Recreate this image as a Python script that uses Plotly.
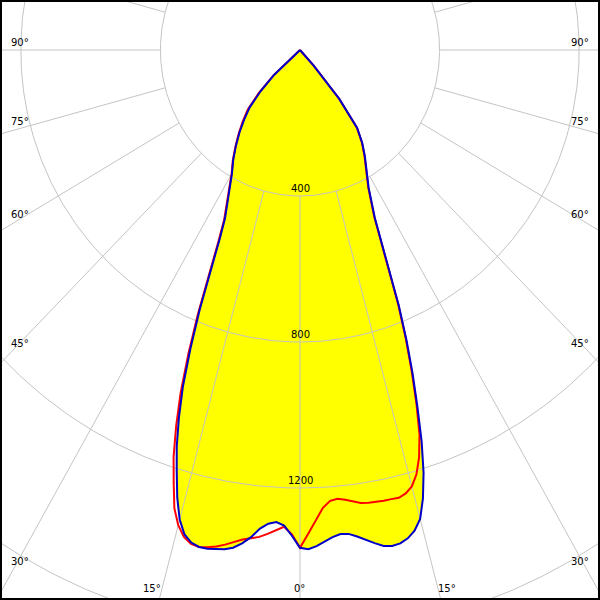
import numpy as np
import plotly.graph_objects as go

# ---------------- data ----------------
gamma = [0, 1, 2, 3, 4, 5, 6, 7, 8, 9, 10, 11, 12, 13, 14, 15, 16, 17, 18, 19, 20,
         21, 22, 23, 24, 25, 27.5, 30, 32.5, 35, 37.5, 40, 42.5, 45, 47.5, 50,
         55, 60, 65, 70, 75, 80, 85, 90]

# C0 plane (blue, right half)
c0 = [1364, 1368, 1360, 1348, 1338, 1331, 1333, 1343, 1356, 1368, 1380, 1384, 1382, 1373,
      1357, 1330, 1278, 1211, 1128, 1033, 943, 851, 756, 650, 565, 507, 426, 380, 346, 311,
      269, 175, 58, 0, 0, 0, 0, 0, 0, 0, 0, 0, 0, 0]
# C180 plane (blue, left half)
c180 = [1364, 1331, 1304, 1295, 1301, 1316, 1342, 1362, 1377, 1385, 1389, 1392, 1392, 1385,
        1368, 1332, 1276, 1208, 1143, 1066, 981, 876, 767, 654, 565, 508, 441, 390, 356, 320,
        285, 249, 214, 160, 100, 0, 0, 0, 0, 0, 0, 0, 0, 0]
# C90 plane (red, right half)
c90 = [1364, 1326, 1288, 1256, 1238, 1234, 1239, 1246, 1253, 1256, 1257, 1258, 1258, 1259,
       1252, 1238, 1210, 1167, 1108, 1025, 935, 845, 750, 645, 560, 503, 423, 377, 344, 309,
       268, 176, 58, 0, 0, 0, 0, 0, 0, 0, 0, 0, 0, 0]
# C270 plane (red, left half)
c270 = [1364, 1327, 1307, 1318, 1329, 1339, 1345, 1351, 1361, 1372, 1381, 1388, 1392, 1389,
        1375, 1348, 1306, 1238, 1172, 1090, 1000, 893, 782, 667, 575, 515, 443, 392, 358, 322,
        288, 255, 222, 168, 104, 0, 0, 0, 0, 0, 0, 0, 0, 0]

ring_values = [400, 800, 1200, 1600]
ring_labels = ["400", "800", "1200"]
spoke_angles = list(range(0, 360, 15))
angle_texts_side = ["90°", "75°", "60°", "45°", "30°"]
angle_texts_bottom = ["15°", "0°", "15°"]

# ---------------- helpers ----------------
def to_xy(g, vals, side):
    g = np.radians(np.asarray(g, dtype=float))
    v = np.asarray(vals, dtype=float)
    return side * v * np.sin(g), -v * np.cos(g)

def full_curve(left, right):
    xl, yl = to_xy(gamma, left, -1)
    xr, yr = to_xy(gamma, right, 1)
    return (np.concatenate([xl[::-1], xr[1:]]),
            np.concatenate([yl[::-1], yr[1:]]))

bx, by = full_curve(c180, c0)
rx, ry = full_curve(c270, c90)

# grid
gx, gy = [], []
t = np.linspace(0, 2 * np.pi, 721)
for r in ring_values:
    gx += list(r * np.sin(t)) + [None]
    gy += list(-r * np.cos(t)) + [None]
for a in spoke_angles:
    ar = np.radians(a)
    r0, r1 = ring_values[0], 3000
    gx += [r0 * np.sin(ar), r1 * np.sin(ar), None]
    gy += [-r0 * np.cos(ar), -r1 * np.cos(ar), None]

fig = go.Figure()
fig.add_trace(go.Scatter(x=bx, y=by, mode="lines", fill="toself", fillcolor="#ffff00",
                         line=dict(width=0, color="#ffff00"), hoverinfo="skip"))
fig.add_trace(go.Scatter(x=gx, y=gy, mode="lines", line=dict(color="#c4c4c4", width=1),
                         hoverinfo="skip"))
fig.add_trace(go.Scatter(x=rx, y=ry, mode="lines", line=dict(color="#ff0000", width=2),
                         hoverinfo="skip"))
fig.add_trace(go.Scatter(x=bx, y=by, mode="lines", line=dict(color="#0000c8", width=2),
                         hoverinfo="skip"))

font = dict(family="DejaVu Sans", size=10, color="black")
ann = []
for r, lab in zip(ring_values, ring_labels):
    ann.append(dict(x=0, y=-r, xref="x", yref="y", text=lab, showarrow=False,
                    xanchor="center", yanchor="bottom", yshift=0, font=font))

W = 596.0
def px(x):
    return (x - 2) / W
def py(y):
    return 1 - (y - 2) / W

side_y = [42, 122, 214, 343, 561]
for txt, yy in zip(angle_texts_side, side_y):
    ann.append(dict(x=px(9), y=py(yy), xref="paper", yref="paper", text=txt, showarrow=False,
                    xanchor="left", yanchor="middle", font=font))
    ann.append(dict(x=px(591), y=py(yy), xref="paper", yref="paper", text=txt, showarrow=False,
                    xanchor="right", yanchor="middle", font=font))
for txt, xx in zip(angle_texts_bottom, [151.5, 299, 447]):
    ann.append(dict(x=px(xx), y=py(588), xref="paper", yref="paper", text=txt, showarrow=False,
                    xanchor="center", yanchor="middle", font=font))

sx, sy = 0.349, 0.365
fig.update_layout(
    width=600, height=600,
    margin=dict(l=2, r=2, t=2, b=2, pad=0),
    paper_bgcolor="black", plot_bgcolor="white",
    showlegend=False,
    xaxis=dict(range=[-298 / sx, 298 / sx], visible=False, fixedrange=True),
    yaxis=dict(range=[-548 / sy, 48 / sy], visible=False, fixedrange=True),
    annotations=ann,
)

fig.write_html("out.html", config={"displayModeBar": False},
               post_script="document.body.style.margin='0';document.body.style.overflow='hidden';")
